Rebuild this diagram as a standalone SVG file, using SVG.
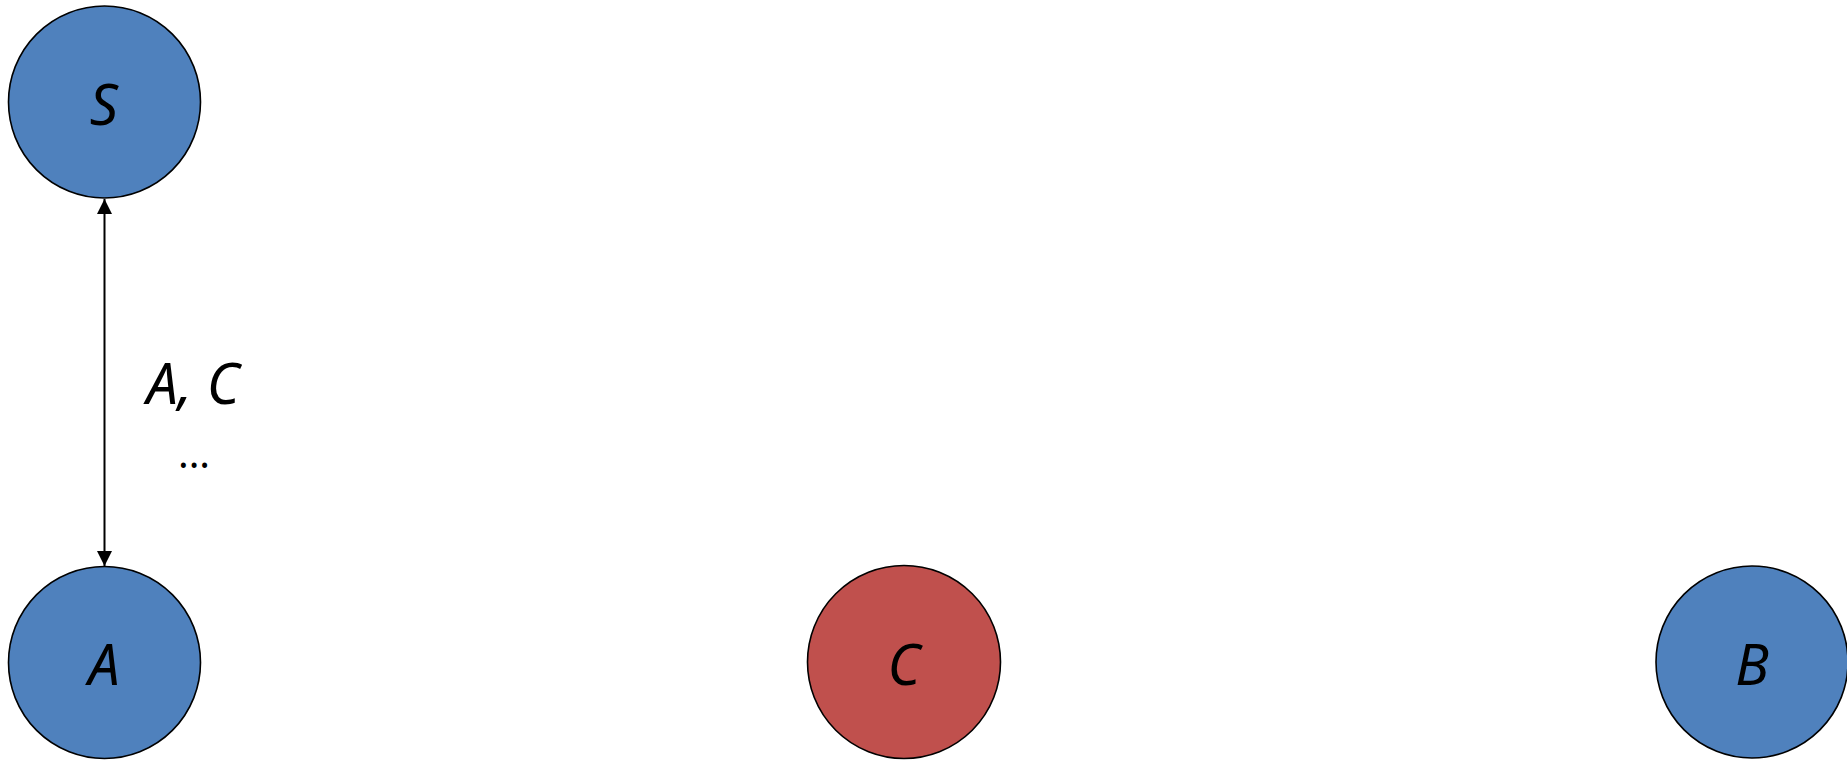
<svg xmlns="http://www.w3.org/2000/svg" width="1847" height="761" viewBox="0 0 1847 761">
<style>
.n{stroke:#000;stroke-width:1.6}
.b{fill:#4F81BD}
.r{fill:#C0504D}
.t{font-family:"Noto Sans","Open Sans",sans-serif;font-style:italic;font-size:56px;fill:#000;text-anchor:middle}
.d{font-family:"Noto Sans","Open Sans",sans-serif;font-size:40px;fill:#000;text-anchor:middle}
.e{stroke:#000;stroke-width:2;fill:none}
</style>
<defs>
<marker id="ah" viewBox="0 0 10 10" refX="10" refY="5" markerWidth="15" markerHeight="15" markerUnits="userSpaceOnUse" orient="auto-start-reverse">
<path d="M0,0 L10,5 L0,10 Z" fill="#000"/>
</marker>
</defs>
<g id="connectors">
<line class="e" x1="104.5" y1="199" x2="104.5" y2="566" marker-start="url(#ah)" marker-end="url(#ah)"/>
<text class="t" x="193" y="404">A, C</text>
<text class="d" x="194" y="468">...</text>
</g>
<g id="S"><circle class="n b" cx="104.5" cy="102" r="96"/><text class="t" x="104" y="125">S</text></g>
<g id="A"><circle class="n b" cx="104.5" cy="662.5" r="96"/><text class="t" x="104" y="685">A</text></g>
<g id="C"><circle class="n r" cx="904" cy="662" r="96.5"/><text class="t" x="904" y="685">C</text></g>
<g id="B"><circle class="n b" cx="1752" cy="662" r="96"/><text class="t" x="1752" y="685">B</text></g>
</svg>
